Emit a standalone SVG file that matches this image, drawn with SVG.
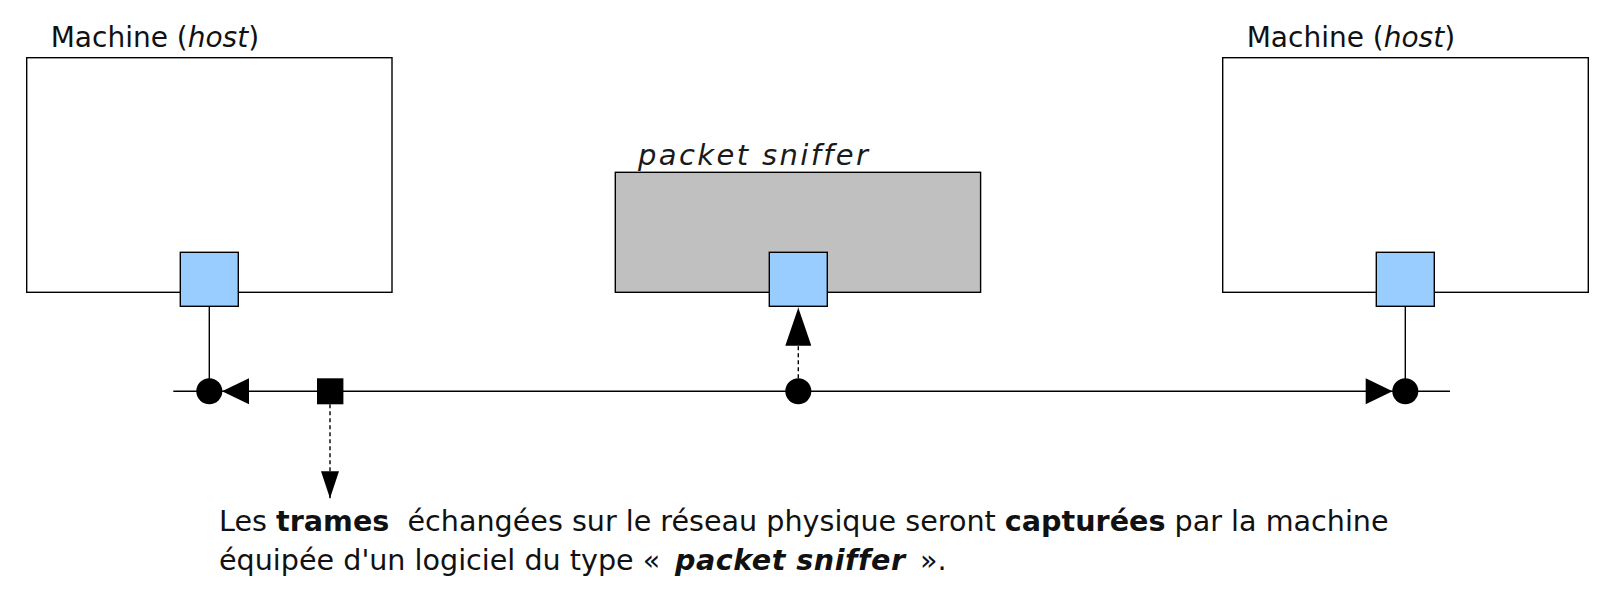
<svg xmlns="http://www.w3.org/2000/svg" width="1614" height="602" viewBox="0 0 1614 602">
  <style>
    .box { fill: #ffffff; stroke: #000000; stroke-width: 1.4; }
    .sniff { fill: #c0c0c0; stroke: #000000; stroke-width: 1.4; }
    .port { fill: #99ccff; stroke: #000000; stroke-width: 1.4; }
    .line { fill: none; stroke: #000000; stroke-width: 1.4; }
    .dash { fill: none; stroke: #000000; stroke-width: 1.4; stroke-dasharray: 4 3; }
    .blk { fill: #000000; stroke: none; }
    text { font-variant-ligatures: none; }
    .lbl { font-family: "DejaVu Sans", "Liberation Sans", sans-serif; font-size: 28px; fill: #111111; }
    .snl { font-family: "DejaVu Sans", "Liberation Sans", sans-serif; font-size: 29px; font-style: italic; fill: #1a1a1a; }
    .txt { font-family: "DejaVu Sans", "Liberation Sans", sans-serif; font-size: 28.6px; fill: #111111; white-space: pre; }
    .b { font-weight: bold; }
    .i { font-style: italic; }
  </style>
  <defs>
    <marker id="arrowTall" viewBox="0 0 38 26" refX="38" refY="13" markerWidth="38" markerHeight="26" markerUnits="userSpaceOnUse" orient="auto">
      <path d="M0,0 L38,13 L0,26 Z" fill="#000000"/>
    </marker>
    <marker id="arrowSmall" viewBox="0 0 27 18" refX="27" refY="9" markerWidth="27" markerHeight="18" markerUnits="userSpaceOnUse" orient="auto">
      <path d="M0,0 L27,9 L0,18 Z" fill="#000000"/>
    </marker>
  </defs>

  <rect width="1614" height="602" fill="#ffffff"/>

  <g id="host-left">
    <rect class="box" x="26.7" y="57.7" width="365.3" height="234.6"/>
    <text class="lbl" x="50.7" y="46.7">Machine (<tspan class="i">host</tspan>)</text>
  </g>

  <g id="sniffer">
    <rect class="sniff" x="615.3" y="172.3" width="365.3" height="120"/>
    <text class="snl" x="638" y="165" textLength="230" lengthAdjust="spacing">packet sniffer</text>
  </g>

  <g id="host-right">
    <rect class="box" x="1222.7" y="57.7" width="365.6" height="234.6"/>
    <text class="lbl" x="1246.7" y="47.3">Machine (<tspan class="i">host</tspan>)</text>
  </g>

  <g id="port-left">
    <rect class="port" x="180.3" y="252.3" width="58" height="54"/>
  </g>
  <g id="port-sniffer">
    <rect class="port" x="769.3" y="252.3" width="58" height="54"/>
  </g>
  <g id="port-right">
    <rect class="port" x="1376.3" y="252.3" width="58" height="54"/>
  </g>

  <g id="connectors">
    <line class="line" x1="173.3" y1="391.3" x2="1450" y2="391.3"/>
    <line class="line" x1="209.3" y1="306.3" x2="209.3" y2="391.3"/>
    <line class="line" x1="1405.3" y1="306.3" x2="1405.3" y2="391.3"/>
    <circle class="blk" cx="209.3" cy="391.3" r="13"/>
    <polygon class="blk" points="222,391.3 249,378.3 249,404.3"/>
    <circle class="blk" cx="1405.3" cy="391.3" r="13"/>
    <polygon class="blk" points="1392.5,391.3 1365.7,378.3 1365.7,404.3"/>
    <circle class="blk" cx="798.3" cy="391.3" r="13"/>
    <path class="dash" d="M798.3,378.3 L798.3,307.7" marker-end="url(#arrowTall)"/>
    <rect class="blk" x="317" y="378.3" width="26.4" height="26"/>
    <path class="dash" d="M330,404.3 L330,498.3" marker-end="url(#arrowSmall)"/>
  </g>

  <g id="caption">
    <text class="txt" x="219" y="530.7" xml:space="preserve">Les <tspan class="b">trames</tspan>  échangées sur le réseau physique seront <tspan class="b">capturées</tspan> par la machine</text>
    <text class="txt" x="219" y="569.5">équipée d'un logiciel du type « <tspan class="b i" x="675" textLength="230" lengthAdjust="spacing">packet sniffer</tspan><tspan x="920">».</tspan></text>
  </g>
</svg>
